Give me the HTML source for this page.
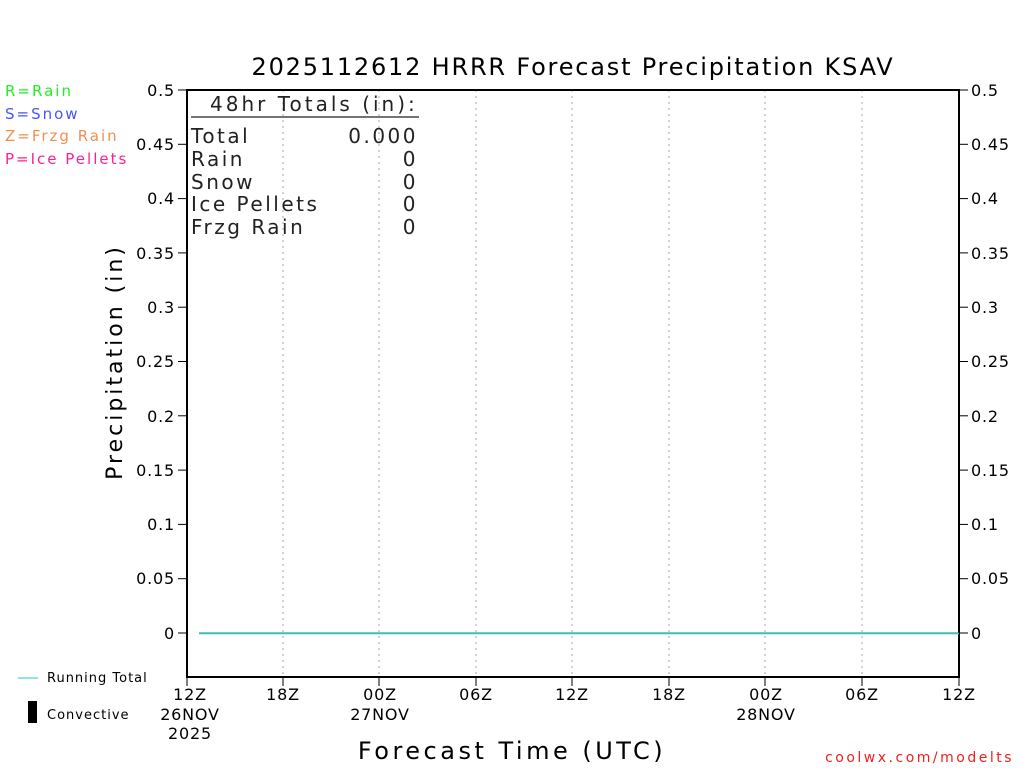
<!DOCTYPE html>
<html><head><meta charset="utf-8"><style>
html,body{margin:0;padding:0;background:#fff;}
svg{display:block;}
text{font-family:"DejaVu Sans","Liberation Sans",sans-serif;}
</style></head><body>
<svg width="1024" height="768" viewBox="0 0 1024 768" xmlns="http://www.w3.org/2000/svg">
<rect width="1024" height="768" fill="#fff"/>
<text x="573" y="75" font-size="24" text-anchor="middle" fill="#000" letter-spacing="1.8">2025112612 HRRR Forecast Precipitation KSAV</text>
<g font-size="15" letter-spacing="2">
<text x="5" y="96" fill="#22ee22">R=Rain</text>
<text x="5" y="119" fill="#4455ff">S=Snow</text>
<text x="5" y="141" fill="#f09050">Z=Frzg Rain</text>
<text x="5" y="164" fill="#ff2090">P=Ice Pellets</text>
</g>
<g stroke="#aaa" stroke-width="1" stroke-dasharray="2,4">
<line x1="283" y1="90" x2="283" y2="677"/><line x1="379" y1="90" x2="379" y2="677"/>
<line x1="476" y1="90" x2="476" y2="677"/><line x1="572" y1="90" x2="572" y2="677"/>
<line x1="669" y1="90" x2="669" y2="677"/><line x1="765" y1="90" x2="765" y2="677"/>
<line x1="862" y1="90" x2="862" y2="677"/>
</g>
<rect x="187" y="90" width="772" height="587" fill="none" stroke="#000" stroke-width="2"/>
<g stroke="#000" stroke-width="1">
<line x1="178" y1="90" x2="187" y2="90"/><line x1="959" y1="90" x2="968" y2="90"/>
<line x1="178" y1="144.3" x2="187" y2="144.3"/><line x1="959" y1="144.3" x2="968" y2="144.3"/>
<line x1="178" y1="198.6" x2="187" y2="198.6"/><line x1="959" y1="198.6" x2="968" y2="198.6"/>
<line x1="178" y1="252.9" x2="187" y2="252.9"/><line x1="959" y1="252.9" x2="968" y2="252.9"/>
<line x1="178" y1="307.2" x2="187" y2="307.2"/><line x1="959" y1="307.2" x2="968" y2="307.2"/>
<line x1="178" y1="361.5" x2="187" y2="361.5"/><line x1="959" y1="361.5" x2="968" y2="361.5"/>
<line x1="178" y1="415.8" x2="187" y2="415.8"/><line x1="959" y1="415.8" x2="968" y2="415.8"/>
<line x1="178" y1="470.1" x2="187" y2="470.1"/><line x1="959" y1="470.1" x2="968" y2="470.1"/>
<line x1="178" y1="524.4" x2="187" y2="524.4"/><line x1="959" y1="524.4" x2="968" y2="524.4"/>
<line x1="178" y1="578.7" x2="187" y2="578.7"/><line x1="959" y1="578.7" x2="968" y2="578.7"/>
<line x1="178" y1="633" x2="187" y2="633"/><line x1="959" y1="633" x2="968" y2="633"/>
<line x1="187" y1="677" x2="187" y2="686"/><line x1="283" y1="677" x2="283" y2="686"/>
<line x1="379" y1="677" x2="379" y2="686"/><line x1="476" y1="677" x2="476" y2="686"/>
<line x1="572" y1="677" x2="572" y2="686"/><line x1="669" y1="677" x2="669" y2="686"/>
<line x1="765" y1="677" x2="765" y2="686"/><line x1="862" y1="677" x2="862" y2="686"/>
<line x1="959" y1="677" x2="959" y2="686"/>
</g>
<g font-size="16" fill="#000" letter-spacing="0.8">
<g text-anchor="end">
<text x="175" y="96">0.5</text><text x="175" y="150">0.45</text><text x="175" y="204">0.4</text>
<text x="175" y="259">0.35</text><text x="175" y="313">0.3</text><text x="175" y="367">0.25</text>
<text x="175" y="422">0.2</text><text x="175" y="476">0.15</text><text x="175" y="530">0.1</text>
<text x="175" y="584">0.05</text><text x="175" y="639">0</text>
</g>
<g text-anchor="start">
<text x="971" y="96">0.5</text><text x="971" y="150">0.45</text><text x="971" y="204">0.4</text>
<text x="971" y="259">0.35</text><text x="971" y="313">0.3</text><text x="971" y="367">0.25</text>
<text x="971" y="422">0.2</text><text x="971" y="476">0.15</text><text x="971" y="530">0.1</text>
<text x="971" y="584">0.05</text><text x="971" y="639">0</text>
</g>
<g text-anchor="middle">
<text x="190" y="700">12Z</text><text x="190" y="720">26NOV</text><text x="190" y="739">2025</text>
<text x="283" y="700">18Z</text>
<text x="380" y="700">00Z</text><text x="380" y="720">27NOV</text>
<text x="476" y="700">06Z</text><text x="572" y="700">12Z</text><text x="669" y="700">18Z</text>
<text x="766" y="700">00Z</text><text x="766" y="720">28NOV</text>
<text x="862" y="700">06Z</text><text x="959" y="700">12Z</text>
</g>
</g>
<text transform="translate(122,362) rotate(-90)" font-size="22" text-anchor="middle" fill="#000" letter-spacing="3">Precipitation (in)</text>
<text x="512" y="759" font-size="24" text-anchor="middle" fill="#000" letter-spacing="3.5">Forecast Time (UTC)</text>
<text x="1014" y="762" font-size="14" text-anchor="end" fill="#ee2020" letter-spacing="2.5">coolwx.com/modelts</text>
<text x="210" y="111" font-size="20" fill="#222" letter-spacing="3">48hr Totals (in):</text>
<line x1="191" y1="117" x2="419" y2="117" stroke="#222" stroke-width="1.3"/>
<g font-size="20" fill="#222" letter-spacing="2.5">
<text x="191" y="143">Total</text><text x="418" y="143" text-anchor="end">0.000</text>
<text x="191" y="166">Rain</text><text x="418" y="166" text-anchor="end">0</text>
<text x="191" y="189">Snow</text><text x="418" y="189" text-anchor="end">0</text>
<text x="191" y="211">Ice Pellets</text><text x="418" y="211" text-anchor="end">0</text>
<text x="191" y="234">Frzg Rain</text><text x="418" y="234" text-anchor="end">0</text>
</g>
<line x1="199" y1="633" x2="959" y2="633" stroke="#333" stroke-width="1"/>
<line x1="199" y1="633.5" x2="959" y2="633.5" stroke="#20c8c8" stroke-width="1.5"/>
<line x1="18" y1="678" x2="38" y2="678" stroke="#20c8c8" stroke-width="1"/>
<text x="47" y="682" font-size="13" fill="#000" letter-spacing="1">Running Total</text>
<rect x="28" y="701" width="9" height="22" fill="#000"/>
<text x="47" y="719" font-size="13" fill="#000" letter-spacing="1">Convective</text>
</svg>
</body></html>
